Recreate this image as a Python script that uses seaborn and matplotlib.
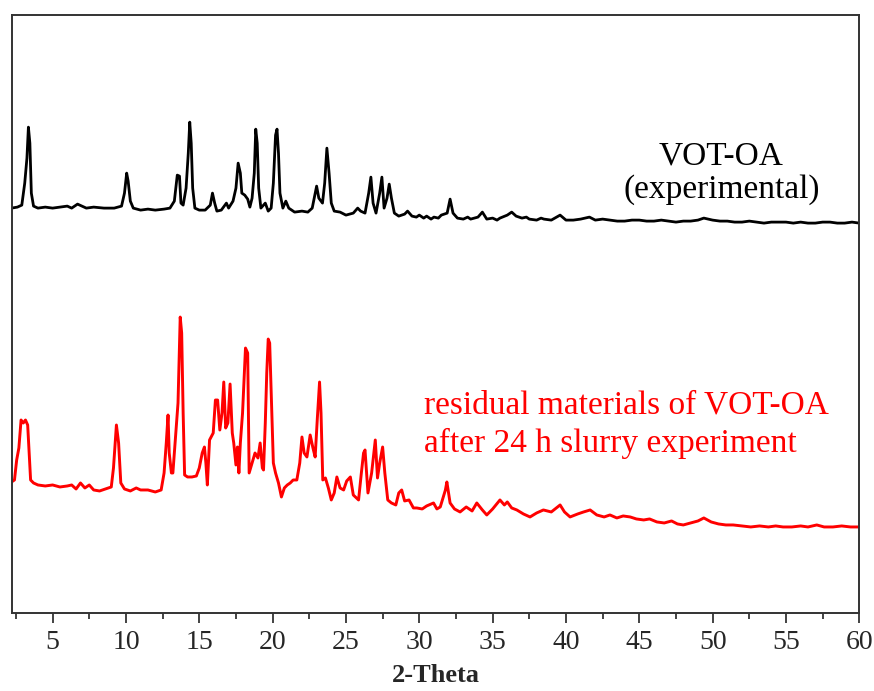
import numpy as np
import pandas as pd
import seaborn as sns
import matplotlib.pyplot as plt

# XRD pattern of VOT-OA (experimental), (2-theta, intensity a.u.)
exp_pattern = [
    (2.2, 405), (2.6, 406), (2.9, 408), (3.1, 430), (3.25, 455), (3.35, 486),
    (3.45, 470), (3.55, 420), (3.7, 407), (4.0, 405), (4.5, 406), (5.0, 405),
    (5.5, 406), (6.0, 407), (6.3, 405), (6.7, 409), (7.0, 407), (7.3, 405),
    (7.8, 406), (8.5, 405), (9.2, 405), (9.7, 407), (9.9, 420), (10.05, 440),
    (10.15, 432), (10.3, 412), (10.5, 405), (11.0, 403), (11.5, 404), (12.0, 403),
    (12.6, 404), (13.0, 405), (13.3, 412), (13.5, 438), (13.65, 437), (13.75, 410),
    (13.9, 408), (14.1, 425), (14.25, 460), (14.35, 491), (14.45, 470), (14.55, 425),
    (14.7, 405), (15.0, 403), (15.4, 403), (15.75, 408), (15.9, 420), (16.05, 410),
    (16.2, 402), (16.5, 403), (16.85, 410), (17.0, 405), (17.3, 412), (17.5, 425),
    (17.65, 450), (17.8, 440), (17.9, 420), (18.1, 418), (18.3, 414), (18.45, 406),
    (18.6, 415), (18.75, 440), (18.85, 484), (18.95, 470), (19.05, 425), (19.2, 405),
    (19.5, 410), (19.7, 402), (19.9, 405), (20.05, 430), (20.2, 478), (20.3, 484),
    (20.4, 460), (20.5, 420), (20.7, 405), (20.9, 412), (21.1, 405), (21.5, 401),
    (22.0, 402), (22.4, 401), (22.7, 405), (22.9, 420), (23.0, 427), (23.15, 415),
    (23.4, 410), (23.55, 430), (23.7, 465), (23.85, 440), (24.0, 410), (24.2, 402),
    (24.6, 401), (25.0, 398), (25.5, 400), (25.8, 405), (26.0, 402), (26.3, 400),
    (26.55, 420), (26.7, 436), (26.85, 410), (27.05, 400), (27.3, 420), (27.45, 436),
    (27.6, 405), (27.8, 415), (27.95, 429), (28.1, 415), (28.3, 400), (28.6, 397),
    (29.0, 399), (29.2, 402), (29.5, 397), (29.8, 396), (30.0, 398), (30.3, 395),
    (30.5, 397), (30.8, 394), (31.0, 396), (31.3, 395), (31.5, 398), (31.9, 400),
    (32.1, 414), (32.3, 400), (32.6, 395), (33.0, 394), (33.3, 396), (33.5, 394),
    (34.0, 396), (34.3, 401), (34.6, 394), (35.0, 395), (35.3, 393), (35.5, 395),
    (36.0, 398), (36.3, 401), (36.6, 397), (37.0, 395), (37.3, 396), (37.5, 394),
    (38.0, 393), (38.3, 395), (38.5, 394), (39.0, 393), (39.6, 398), (40.0, 393),
    (40.5, 393), (41.0, 394), (41.6, 396), (42.0, 393), (42.5, 394), (43.0, 393),
    (43.5, 392), (44.0, 392), (44.5, 393), (45.0, 393), (45.5, 392), (46.0, 392),
    (46.5, 393), (47.0, 392), (47.5, 391), (48.0, 392), (48.5, 392), (49.0, 393),
    (49.4, 395), (50.0, 393), (50.5, 392), (51.0, 392), (51.5, 391), (52.0, 391),
    (52.5, 392), (53.0, 391), (53.5, 390), (54.0, 391), (54.5, 391), (55.0, 391),
    (55.5, 390), (56.0, 391), (56.5, 390), (57.0, 390), (57.5, 391), (58.0, 391),
    (58.5, 390), (59.0, 390), (59.5, 391), (60.0, 390),
]

# residual materials after 24 h slurry
res_pattern = [
    (2.2, 131), (2.4, 133), (2.55, 153), (2.7, 165), (2.85, 193), (3.0, 190),
    (3.15, 193), (3.3, 188), (3.4, 160), (3.5, 133), (3.7, 130), (4.0, 128),
    (4.5, 127), (5.0, 128), (5.5, 126), (6.0, 127), (6.3, 128), (6.6, 124),
    (6.9, 130), (7.2, 125), (7.5, 128), (7.8, 123), (8.2, 122), (8.6, 124),
    (9.0, 126), (9.15, 145), (9.35, 188), (9.5, 170), (9.65, 130), (9.9, 124),
    (10.3, 122), (10.7, 125), (11.0, 123), (11.5, 123), (12.0, 121), (12.4, 123),
    (12.6, 140), (12.75, 170), (12.87, 198), (12.95, 160), (13.1, 140), (13.2, 140),
    (13.4, 180), (13.55, 210), (13.7, 296), (13.8, 280), (13.9, 200), (14.0, 138),
    (14.2, 136), (14.5, 136), (14.8, 137), (15.0, 145), (15.2, 160), (15.35, 166),
    (15.45, 150), (15.55, 128), (15.7, 173), (15.95, 180), (16.1, 213), (16.25, 213),
    (16.4, 183), (16.55, 200), (16.67, 231), (16.8, 185), (16.95, 190), (17.1, 229),
    (17.25, 180), (17.35, 170), (17.5, 148), (17.6, 166), (17.7, 140), (17.8, 170),
    (17.95, 200), (18.15, 265), (18.3, 260), (18.4, 140), (18.6, 150), (18.8, 160),
    (19.0, 155), (19.15, 170), (19.3, 145), (19.38, 143), (19.5, 190), (19.6, 240),
    (19.7, 274), (19.8, 270), (19.9, 223), (20.05, 150), (20.2, 140), (20.4, 130),
    (20.6, 116), (20.8, 125), (21.0, 128), (21.2, 130), (21.4, 133), (21.65, 133),
    (21.85, 150), (22.0, 176), (22.15, 160), (22.34, 156), (22.56, 178), (22.75, 165),
    (22.9, 156), (23.05, 195), (23.2, 231), (23.3, 200), (23.42, 133), (23.6, 135),
    (23.8, 125), (24.0, 113), (24.2, 120), (24.38, 136), (24.6, 125), (24.84, 123),
    (25.05, 132), (25.3, 136), (25.5, 118), (25.86, 113), (26.05, 140), (26.2, 160),
    (26.3, 163), (26.5, 120), (26.75, 140), (27.0, 173), (27.15, 135), (27.3, 150),
    (27.5, 166), (27.65, 140), (27.85, 113), (28.1, 110), (28.4, 108), (28.6, 120),
    (28.8, 123), (29.0, 112), (29.3, 113), (29.6, 105), (29.83, 105), (30.2, 104),
    (30.5, 107), (30.97, 110), (31.2, 104), (31.43, 106), (31.78, 123), (31.88, 131),
    (32.1, 110), (32.4, 104), (32.78, 101), (33.2, 106), (33.6, 102), (33.92, 110),
    (34.3, 103), (34.6, 98), (35.0, 104), (35.5, 113), (35.8, 108), (36.0, 111),
    (36.3, 105), (36.65, 103), (37.1, 99), (37.55, 96), (38.0, 100), (38.46, 103),
    (39.0, 101), (39.6, 108), (39.9, 101), (40.28, 96), (40.8, 99), (41.2, 101),
    (41.65, 103), (42.1, 98), (42.6, 96), (43.0, 98), (43.47, 95), (43.9, 97),
    (44.38, 96), (44.8, 94), (45.3, 93), (45.7, 94), (46.2, 91), (46.7, 90),
    (47.2, 92), (47.6, 89), (48.0, 88), (48.5, 90), (49.0, 92), (49.4, 95),
    (49.9, 91), (50.4, 89), (50.9, 88), (51.4, 88), (52.0, 87), (52.6, 86),
    (53.2, 87), (53.8, 86), (54.3, 87), (54.8, 86), (55.4, 86), (56.0, 87),
    (56.5, 86), (57.1, 88), (57.6, 86), (58.2, 86), (58.8, 87), (59.4, 86),
    (60.0, 86),
]

exp_label = ["VOT-OA", "(experimental)"]
res_label = ["residual materials of VOT-OA", "after 24 h slurry experiment"]

xticks = [5, 10, 15, 20, 25, 30, 35, 40, 45, 50, 55, 60]

df_exp = pd.DataFrame(exp_pattern, columns=["theta", "intensity"])
df_res = pd.DataFrame(res_pattern, columns=["theta", "intensity"])

sns.set_style("ticks")
plt.rcParams['font.family'] = ['Liberation Serif', 'DejaVu Serif']

fig = plt.figure(figsize=(8.74, 6.91), dpi=100)
ax = fig.add_axes([0.0132, 0.113, 0.970, 0.865])

sns.lineplot(x="theta", y="intensity", data=df_exp, color="black", lw=2.0,
             estimator=None, sort=False, ax=ax)
sns.lineplot(x="theta", y="intensity", data=df_res, color="#ff0000", lw=2.1,
             estimator=None, sort=False, ax=ax)

ax.set_xlim(2.2, 60)
ax.set_ylim(0, 598)
ax.set_xticks(xticks)
ax.set_xticks(np.arange(2.5, 60, 5), minor=True)
ax.set_yticks([])
ax.tick_params(axis="x", which="major", length=7, width=1.2, labelsize=20, pad=5, color="#222222")
ax.tick_params(axis="x", which="minor", length=4.5, width=1.2, color="#222222")
for s in ax.spines.values():
    s.set_visible(True)
    s.set_linewidth(1.4)
    s.set_color("#333333")

ax.set_xlabel("2-Theta", fontsize=19, fontweight="bold", labelpad=7)
ax.set_ylabel("")

ax.text(50.6, 457, exp_label[0], fontsize=24, ha="center", va="center", color="black")
ax.text(50.6, 424, exp_label[1], fontsize=24, ha="center", va="center", color="black")
ax.text(30.3, 208, res_label[0], fontsize=24, ha="left", va="center", color="#ff0000")
ax.text(30.3, 170, res_label[1], fontsize=24, ha="left", va="center", color="#ff0000")

fig.savefig("out.png", dpi=100)
